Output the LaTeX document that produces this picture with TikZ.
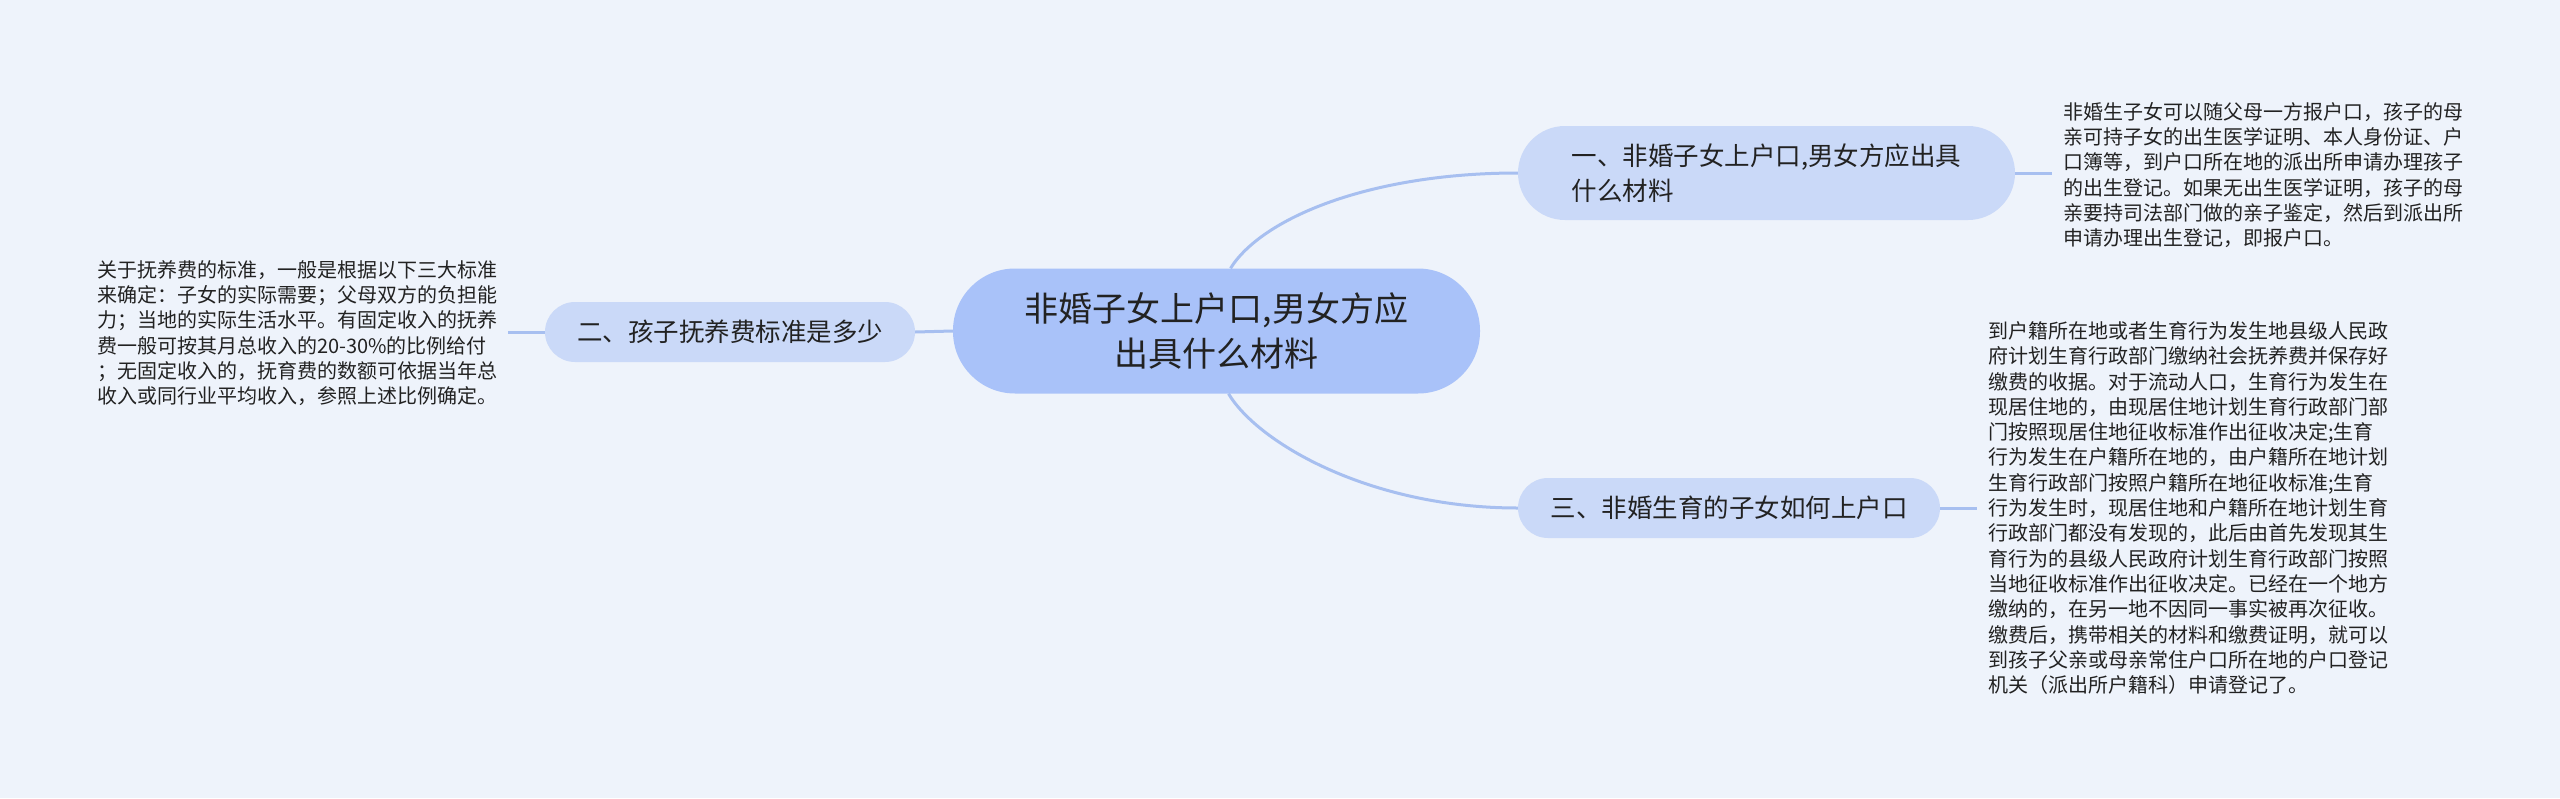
\documentclass[tikz,border=0pt]{standalone}
\usepackage{fontspec}
\setmainfont{Noto Sans CJK SC}
\definecolor{bg}{HTML}{EEF3FB}
\definecolor{rootfill}{HTML}{A9C2F9}
\definecolor{subfill}{HTML}{CAD9F8}
\definecolor{linec}{HTML}{A7BFF0}
\definecolor{txt}{HTML}{222222}
\tikzset{
  rootnode/.style={fill=rootfill, rounded corners=62pt, minimum width=527pt, minimum height=125pt, inner sep=0pt, align=center, text=txt, font=\fontsize{34pt}{45pt}\selectfont},
  topicnode/.style={fill=subfill, inner sep=0pt, text=txt, font=\fontsize{25.5pt}{35pt}\selectfont},
  leafnode/.style={align=left, inner ysep=0pt, inner xsep=11pt, text=txt, font=\fontsize{20pt}{25.3pt}\selectfont},
  conn/.style={draw=linec, line width=3pt}
}
\begin{document}
\begin{tikzpicture}[x=1pt,y=-1pt]
\useasboundingbox (0,0) rectangle (2560,798);
\fill[bg] (0,0) rectangle (2560,798);

\node[rootnode] (root) at (1216.5,331) {非婚子女上户口,男女方应\\出具什么材料};
\node[topicnode, rounded corners=47pt, minimum width=497pt, minimum height=94pt, align=left] (n1) at (1766.5,173) {一、非婚子女上户口,男女方应出具\\什么材料};
\node[topicnode, rounded corners=30pt, minimum width=370pt, minimum height=60pt] (n2) at (730,332) {二、孩子抚养费标准是多少};
\node[topicnode, rounded corners=30pt, minimum width=422pt, minimum height=60pt] (n3) at (1729,508) {三、非婚生育的子女如何上户口};

\node[leafnode, anchor=west] (t1) at (2052,175) {非婚生子女可以随父母一方报户口，孩子的母\\亲可持子女的出生医学证明、本人身份证、户\\口簿等，到户口所在地的派出所申请办理孩子\\的出生登记。如果无出生医学证明，孩子的母\\亲要持司法部门做的亲子鉴定，然后到派出所\\申请办理出生登记，即报户口。};

\node[leafnode, anchor=west] (t2) at (86,333) {关于抚养费的标准，一般是根据以下三大标准\\来确定：子女的实际需要；父母双方的负担能\\力；当地的实际生活水平。有固定收入的抚养\\费一般可按其月总收入的20-30\%的比例给付\\；无固定收入的，抚育费的数额可依据当年总\\收入或同行业平均收入，参照上述比例确定。};
\coordinate (c2) at (508,332);

\node[leafnode, anchor=west] (t3) at (1977,508) {到户籍所在地或者生育行为发生地县级人民政\\府计划生育行政部门缴纳社会抚养费并保存好\\缴费的收据。对于流动人口，生育行为发生在\\现居住地的，由现居住地计划生育行政部门部\\门按照现居住地征收标准作出征收决定;生育\\行为发生在户籍所在地的，由户籍所在地计划\\生育行政部门按照户籍所在地征收标准;生育\\行为发生时，现居住地和户籍所在地计划生育\\行政部门都没有发现的，此后由首先发现其生\\育行为的县级人民政府计划生育行政部门按照\\当地征收标准作出征收决定。已经在一个地方\\缴纳的，在另一地不因同一事实被再次征收。\\缴费后，携带相关的材料和缴费证明，就可以\\到孩子父亲或母亲常住户口所在地的户口登记\\机关（派出所户籍科）申请登记了。};

\draw[conn] ([xshift=14pt]root.north) .. controls (1262,218) and (1370,173) .. (n1.west);
\draw[conn] ([xshift=12pt]root.south) .. controls (1258,443) and (1370,508) .. (n3.west);
\draw[conn] (root.west) -- (n2.east);
\draw[conn] (n2.west) -- (c2);
\draw[conn] (n1.east) -- (n1.east -| t1.west);
\draw[conn] (n3.east) -- (n3.east -| t3.west);
\end{tikzpicture}
\end{document}
